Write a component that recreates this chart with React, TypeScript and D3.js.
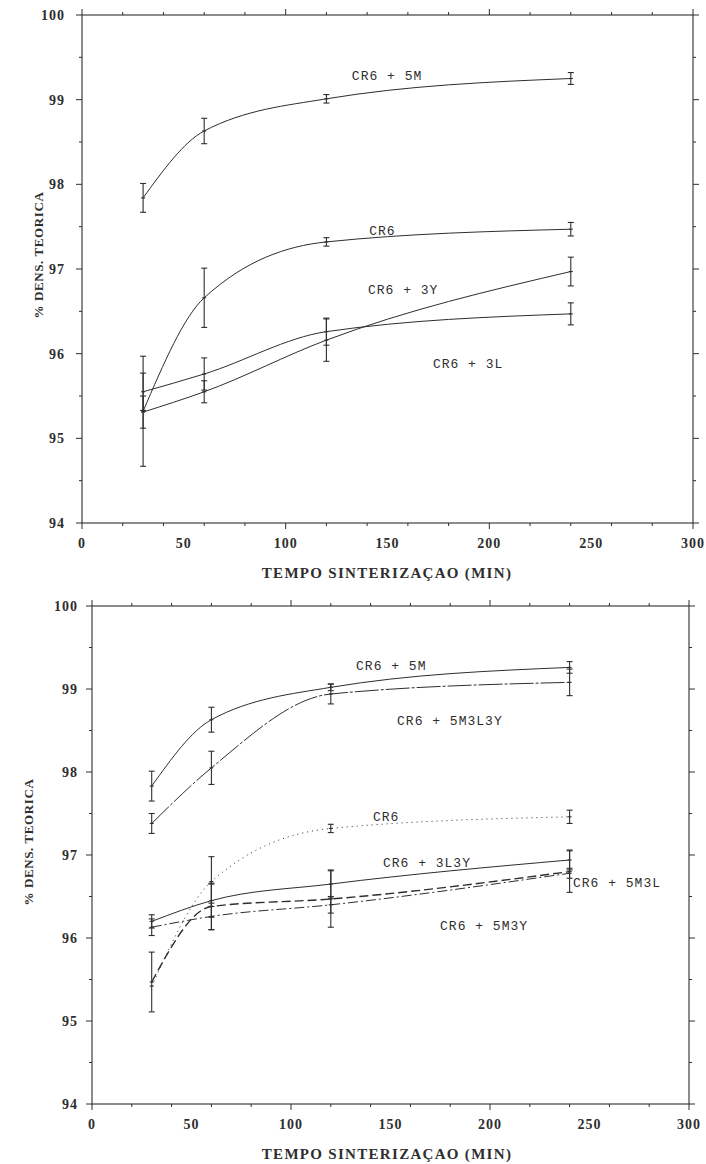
import * as d3 from 'd3';

// sintering time (min)
const times = [30, 60, 120, 240];

// upper panel: % of theoretical density
const cr6A = [95.32, 96.66, 97.32, 97.47];
const cr6AErr = [0.65, 0.35, 0.05, 0.08];
const cr6_5mA = [97.84, 98.63, 99.01, 99.25];
const cr6_5mAErr = [0.17, 0.15, 0.05, 0.07];
const cr6_3yA = [95.31, 95.55, 96.16, 96.97];
const cr6_3yAErr = [0.19, 0.13, 0.25, 0.17];
const cr6_3lA = [95.55, 95.76, 96.26, 96.47];
const cr6_3lAErr = [0.22, 0.19, 0.16, 0.13];

// lower panel
const cr6B = [95.42, 96.68, 97.32, 97.46];
const cr6BErr = [0, 0.3, 0.05, 0.08];
const cr6_5mB = [97.83, 98.63, 99.02, 99.26];
const cr6_5mBErr = [0.18, 0.15, 0.04, 0.07];
const cr6_5m3l3yB = [97.38, 98.05, 98.94, 99.08];
const cr6_5m3l3yBErr = [0.12, 0.2, 0.12, 0.16];
const cr6_3l3yB = [96.2, 96.45, 96.65, 96.94];
const cr6_3l3yBErr = [0.08, 0.2, 0.17, 0.12];
const cr6_5m3lB = [95.47, 96.38, 96.47, 96.8];
const cr6_5m3lBErr = [0.36, 0.28, 0.34, 0.25];
const cr6_5m3yB = [96.13, 96.26, 96.4, 96.78];
const cr6_5m3yBErr = [0.1, 0.16, 0.1, 0.06];

const xDomain = [0, 300];
const yDomain = [94, 100];
const xTitle = 'TEMPO SINTERIZAÇAO (MIN)';
const yTitle = '% DENS. TEORICA';

const INK = '#2e2e2e';

type Series = { values: number[]; err: number[]; dash?: string; width?: number };
type Label = { text: string; t: number; v: number };
type Geom = {
  left: number; right: number; top: number; bottom: number;
  yLabelGap: number; titleX: number; titleY: number;
};

const panelA: { series: Series[]; labels: Label[]; geom: Geom } = {
  series: [
    { values: cr6_5mA, err: cr6_5mAErr },
    { values: cr6A, err: cr6AErr },
    { values: cr6_3yA, err: cr6_3yAErr },
    { values: cr6_3lA, err: cr6_3lAErr },
  ],
  labels: [
    { text: 'CR6 + 5M', t: 132.5, v: 99.23 },
    { text: 'CR6', t: 141, v: 97.4 },
    { text: 'CR6 + 3Y', t: 140.4, v: 96.71 },
    { text: 'CR6 + 3L', t: 172.3, v: 95.83 },
  ],
  geom: { left: 82, right: 693, top: 15, bottom: 523, yLabelGap: 17, titleX: 38, titleY: 255 },
};

const panelB: { series: Series[]; labels: Label[]; geom: Geom } = {
  series: [
    { values: cr6_5mB, err: cr6_5mBErr },
    { values: cr6_5m3l3yB, err: cr6_5m3l3yBErr, dash: '24 2 3 2' },
    { values: cr6B, err: cr6BErr, dash: '1 4' },
    { values: cr6_3l3yB, err: cr6_3l3yBErr },
    { values: cr6_5m3lB, err: cr6_5m3lBErr, dash: '9 4', width: 1.4 },
    { values: cr6_5m3yB, err: cr6_5m3yBErr, dash: '10 3 2 3' },
  ],
  labels: [
    { text: 'CR6 + 5M', t: 132.7, v: 99.23 },
    { text: 'CR6 + 5M3L3Y', t: 153.3, v: 98.57 },
    { text: 'CR6', t: 141.2, v: 97.41 },
    { text: 'CR6 + 3L3Y', t: 146.2, v: 96.86 },
    { text: 'CR6 + 5M3L', t: 241.7, v: 96.62 },
    { text: 'CR6 + 5M3Y', t: 174.9, v: 96.1 },
  ],
  geom: { left: 92, right: 689, top: 606, bottom: 1104, yLabelGap: 14, titleX: 28, titleY: 842 },
};

function Panel({ series, labels, geom }: { series: Series[]; labels: Label[]; geom: Geom }) {
  const x = d3.scaleLinear().domain(xDomain).range([geom.left, geom.right]);
  const y = d3.scaleLinear().domain(yDomain).range([geom.bottom, geom.top]);

  const xMinor = x.ticks(12);
  const xMajor = x.ticks(6);
  const yMinor = y.ticks(12);
  const yMajor = y.ticks(6);

  const line = d3
    .line<number>()
    .x((_, i) => x(times[i]))
    .y((d) => y(d))
    .curve(d3.curveMonotoneX);

  const isMajor = (list: number[], v: number) => list.some((m) => Math.abs(m - v) < 1e-9);

  return (
    <g>
      {/* frame */}
      <rect
        x={geom.left}
        y={geom.top}
        width={geom.right - geom.left}
        height={geom.bottom - geom.top}
        fill="none"
        stroke={INK}
        strokeWidth={1.1}
      />

      {xMinor.map((t) => {
        const len = isMajor(xMajor, t) ? 6 : 3;
        return (
          <g key={`xt-${t}`} stroke={INK} strokeWidth={1}>
            <line x1={x(t)} x2={x(t)} y1={geom.bottom} y2={geom.bottom + len} />
            <line x1={x(t)} x2={x(t)} y1={geom.top} y2={geom.top - len} />
          </g>
        );
      })}
      {yMinor.map((t) => {
        const len = isMajor(yMajor, t) ? 6 : 3;
        return (
          <g key={`yt-${t}`} stroke={INK} strokeWidth={1}>
            <line x1={geom.left} x2={geom.left - len} y1={y(t)} y2={y(t)} />
            <line x1={geom.right} x2={geom.right + len} y1={y(t)} y2={y(t)} />
          </g>
        );
      })}

      {xMajor.map((t) => (
        <text
          key={`xl-${t}`}
          x={x(t)}
          y={geom.bottom + 25}
          textAnchor="middle"
          fontFamily="Liberation Serif"
          fontWeight="bold"
          fontSize={14}
          letterSpacing={1}
          fill={INK}
        >
          {t}
        </text>
      ))}
      {yMajor.map((t) => (
        <text
          key={`yl-${t}`}
          x={geom.left - geom.yLabelGap}
          y={y(t) + 5}
          textAnchor="end"
          fontFamily="Liberation Serif"
          fontWeight="bold"
          fontSize={14}
          letterSpacing={1}
          fill={INK}
        >
          {t}
        </text>
      ))}

      <text
        x={387}
        y={geom.bottom + 55}
        textAnchor="middle"
        fontFamily="Liberation Serif"
        fontWeight="bold"
        fontSize={15}
        letterSpacing={1.3}
        fill={INK}
      >
        {xTitle}
      </text>
      <text
        transform={`translate(${geom.titleX},${geom.titleY}) rotate(-90)`}
        textAnchor="middle"
        dy={5}
        fontFamily="Liberation Serif"
        fontWeight="bold"
        fontSize={13}
        letterSpacing={0.6}
        fill={INK}
      >
        {yTitle}
      </text>

      {series.map((s, si) => (
        <g key={`s-${si}`}>
          <path
            d={line(s.values) ?? ''}
            fill="none"
            stroke={INK}
            strokeWidth={s.width ?? 1}
            strokeDasharray={s.dash}
          />
          {s.values.map((v, i) => {
            const cx = x(times[i]);
            const e = s.err[i];
            return (
              <g key={`e-${si}-${i}`} stroke={INK} strokeWidth={1.1}>
                {e > 0 && (
                  <>
                    <line x1={cx} x2={cx} y1={y(v - e)} y2={y(v + e)} />
                    <line x1={cx - 3} x2={cx + 3} y1={y(v + e)} y2={y(v + e)} />
                    <line x1={cx - 3} x2={cx + 3} y1={y(v - e)} y2={y(v - e)} />
                  </>
                )}
                <line x1={cx - 2} x2={cx + 2} y1={y(v)} y2={y(v)} />
              </g>
            );
          })}
        </g>
      ))}

      {labels.map((l) => (
        <text
          key={l.text}
          x={x(l.t)}
          y={y(l.v)}
          fontFamily="Liberation Mono"
          fontSize={13}
          letterSpacing={1}
          fill={INK}
        >
          {l.text}
        </text>
      ))}
    </g>
  );
}

export default function App() {
  return (
    <div style={{ position: 'absolute', left: 0, top: 0 }}>
      <svg width={706} height={1164} viewBox="0 0 706 1164" style={{ display: 'block', background: '#fff' }}>
        <Panel {...panelA} />
        <Panel {...panelB} />
      </svg>
    </div>
  );
}
